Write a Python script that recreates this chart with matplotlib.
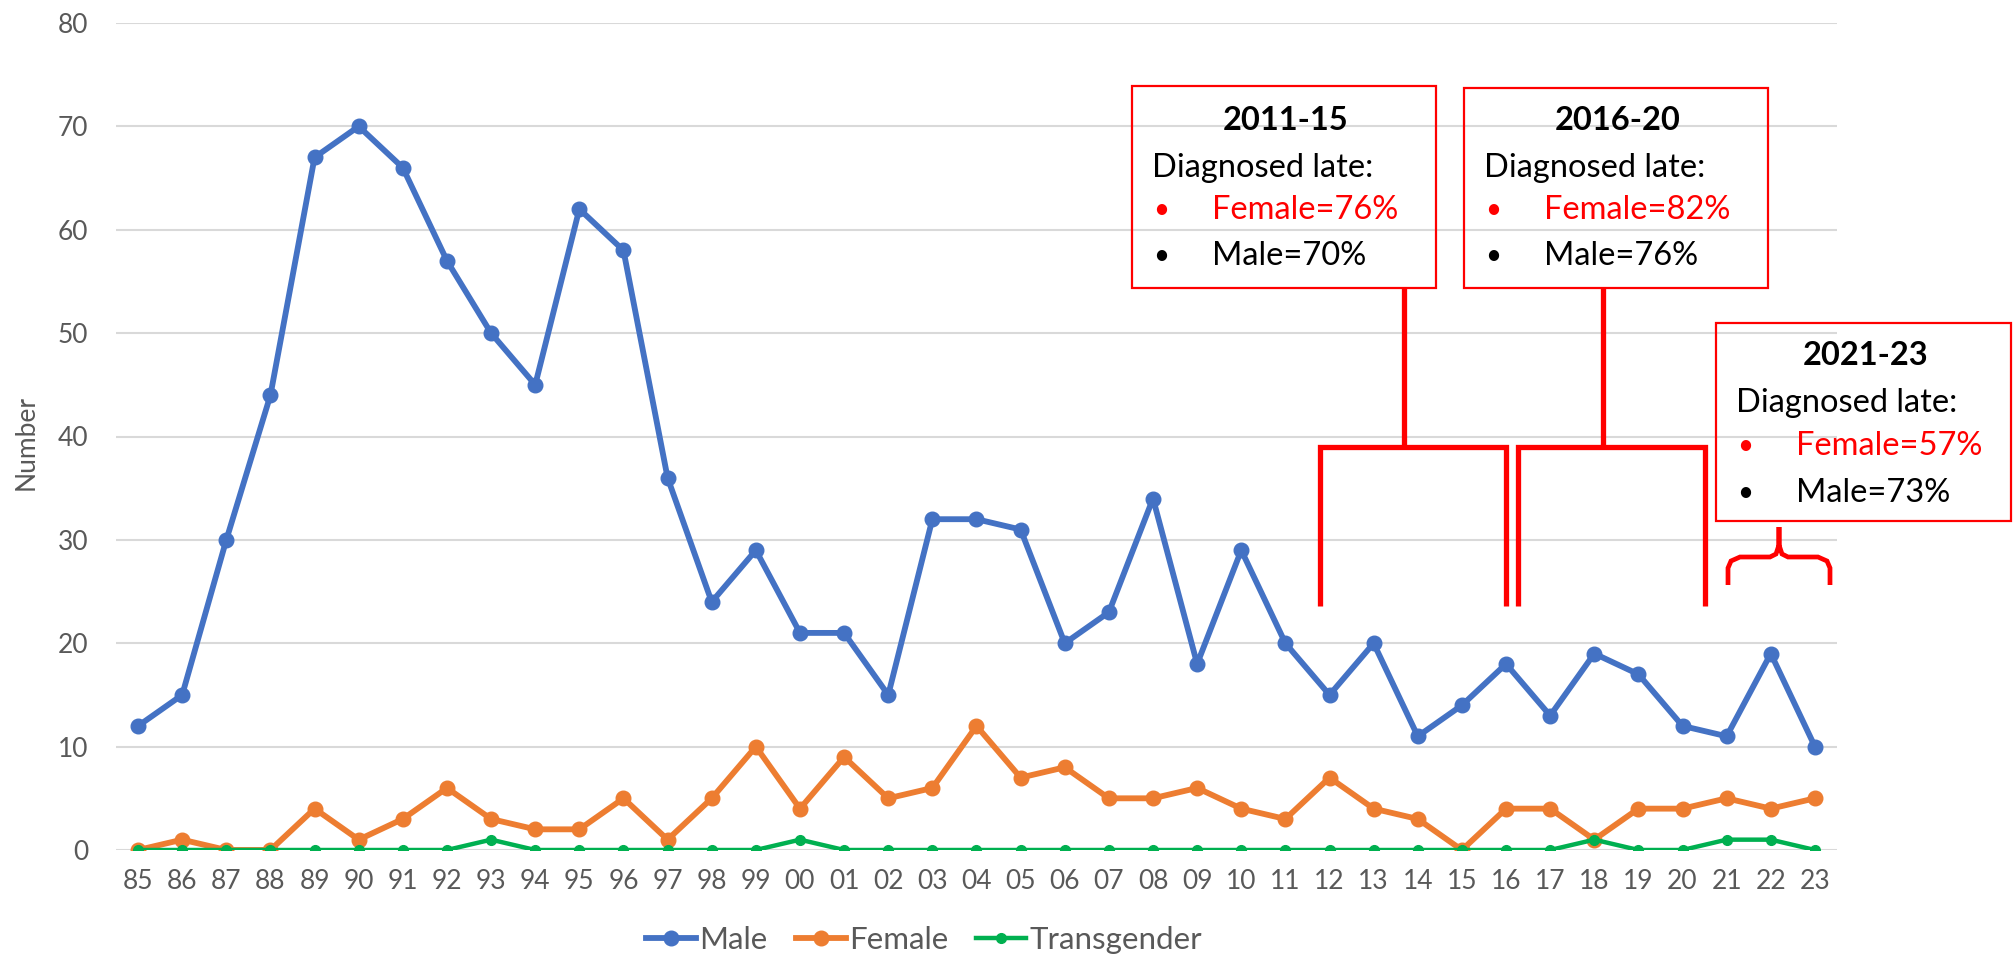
import numpy as np
import matplotlib
matplotlib.use("Agg")
import matplotlib.pyplot as plt
from matplotlib.patches import Rectangle
from matplotlib.lines import Line2D

plt.rcParams["font.family"] = ["Lato", "DejaVu Sans"]

# data
years = ["85", "86", "87", "88", "89", "90", "91", "92", "93", "94", "95", "96", "97",
         "98", "99", "00", "01", "02", "03", "04", "05", "06", "07", "08", "09", "10",
         "11", "12", "13", "14", "15", "16", "17", "18", "19", "20", "21", "22", "23"]
male = [12, 15, 30, 44, 67, 70, 66, 57, 50, 45, 62, 58, 36,
        24, 29, 21, 21, 15, 32, 32, 31, 20, 23, 34, 18, 29,
        20, 15, 20, 11, 14, 18, 13, 19, 17, 12, 11, 19, 10]
female = [0, 1, 0, 0, 4, 1, 3, 6, 3, 2, 2, 5, 1,
          5, 10, 4, 9, 5, 6, 12, 7, 8, 5, 5, 6, 4,
          3, 7, 4, 3, 0, 4, 4, 1, 4, 4, 5, 4, 5]
transgender = [0, 0, 0, 0, 0, 0, 0, 0, 1, 0, 0, 0, 0,
               0, 0, 1, 0, 0, 0, 0, 0, 0, 0, 0, 0, 0,
               0, 0, 0, 0, 0, 0, 0, 1, 0, 0, 1, 1, 0]

periods = ["2011-15", "2016-20", "2021-23"]
late_female = [76, 82, 57]
late_male = [70, 76, 73]

W, H = 2013, 957
BLUE, ORANGE, GREEN = "#4472C4", "#ED7D31", "#00B050"
GREY = "#595959"
RED = "#FF0000"


def fx(px):
    return px / W


def fy(py):
    return 1 - py / H


fig = plt.figure(figsize=(W / 100, H / 100), dpi=100)
ax = fig.add_axes([fx(116), fy(850), (1837 - 116) / W, (850 - 23) / H])

x = np.arange(len(years))
ax.plot(x, male, color=BLUE, lw=4.2, marker="o", ms=10.5, label="Male", zorder=3)
ax.plot(x, female, color=ORANGE, lw=4.2, marker="o", ms=10.5, label="Female", zorder=3)
ax.plot(x, transgender, color=GREEN, lw=3.2, marker="o", ms=7, label="Transgender", zorder=4)

ax.set_xlim(-0.5, len(years) - 0.5)
ax.set_ylim(0, 80)
ax.set_xticks(x)
ax.set_xticklabels(years)
ax.set_yticks(range(0, 81, 10))
ax.tick_params(axis="both", length=0, labelsize=19, colors=GREY)
ax.tick_params(axis="x", pad=14)
ax.tick_params(axis="y", pad=20)
ax.grid(axis="y", color="#D9D9D9", lw=1.5)
ax.set_axisbelow(True)
for s in ax.spines.values():
    s.set_visible(False)

fig.text(fx(26), fy(442), "Number", rotation=90, ha="center", va="center",
         fontsize=19, color=GREY)

fig.legend(loc="center", bbox_to_anchor=(fx(924), fy(940)), ncol=3, frameon=False,
           fontsize=22.5, labelcolor=GREY, handlelength=1.6, handletextpad=0.1,
           columnspacing=0.9)

# annotation boxes: (left, top, right, bottom) in pixels
boxes = [(1132, 86, 1436, 288), (1464, 88, 1768, 288), (1716, 323, 2011, 521)]
baselines = [(130, 177, 219, 265), (130, 177, 219, 265), (365, 412, 455, 502)]
fs = 23.5
for i, (l, t, r, b) in enumerate(boxes):
    fig.add_artist(Rectangle((fx(l), fy(b)), (r - l) / W, (b - t) / H,
                             transform=fig.transFigure, fill=False,
                             edgecolor=RED, lw=1.6, clip_on=False))
    yt, yd, yf, ym = baselines[i]
    fig.text(fx((l + r) / 2 + 2), fy(yt), periods[i], ha="center", va="baseline",
             fontsize=fs, fontweight="bold", color="black")
    fig.text(fx(l + 20), fy(yd), "Diagnosed late:", ha="left", va="baseline",
             fontsize=fs, color="black")
    fig.text(fx(l + 21), fy(yf - 1), "\u2022", ha="left", va="baseline", fontsize=20, color=RED)
    fig.text(fx(l + 80), fy(yf), f"Female={late_female[i]}%", ha="left", va="baseline",
             fontsize=fs, color=RED)
    fig.text(fx(l + 21), fy(ym - 1), "\u2022", ha="left", va="baseline", fontsize=20, color="black")
    fig.text(fx(l + 80), fy(ym), f"Male={late_male[i]}%", ha="left", va="baseline",
             fontsize=fs, color="black")


def bracket(pts, lw=3.8):
    xs = [fx(p[0]) for p in pts]
    ys = [fy(p[1]) for p in pts]
    fig.add_artist(Line2D(xs, ys, transform=fig.transFigure, color=RED, lw=lw,
                          solid_joinstyle="miter", solid_capstyle="butt"))


# square brackets under the first two boxes
bracket([(1404, 288), (1404, 447)])
bracket([(1320, 606), (1320, 447), (1506, 447), (1506, 606)])
bracket([(1603, 288), (1603, 447)])
bracket([(1518, 606), (1518, 447), (1705, 447), (1705, 606)])
# curly brace under the last box
bracket([(1728, 585), (1728, 568), (1731, 561), (1740, 557), (1770, 557), (1776, 554),
         (1779, 545), (1779, 527), (1779, 545), (1782, 554), (1788, 557), (1818, 557),
         (1827, 561), (1830, 568), (1830, 585)], lw=3.4)

fig.savefig("out.png", dpi=100)
